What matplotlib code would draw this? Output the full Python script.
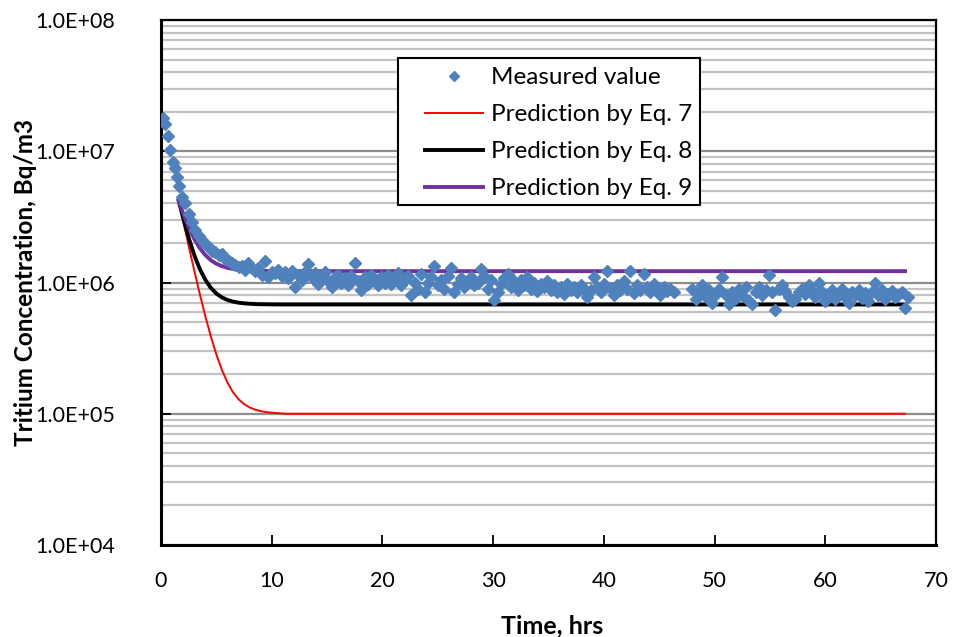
"""Tritium concentration decay: measured values vs. Eq. 7/8/9 predictions."""

import matplotlib
matplotlib.use("Agg")
import matplotlib.pyplot as plt
from matplotlib.patches import Rectangle
from matplotlib.ticker import LogLocator, FuncFormatter, NullFormatter

BLUE = "#4f81bd"
RED = "#ff0000"
PURPLE = "#7030a0"
GRID_MAJOR = "#8c8c8c"
GRID_MINOR = "#c3c3c3"

# measured values (hrs, Bq/m3 in units of 1e6)
measured_t = [
    0.15, 0.4, 0.6, 0.8, 1.05, 1.3, 1.45, 1.6, 1.9, 2.2, 2.5, 2.8, 3.1, 3.4,
    3.7, 4.0, 4.3, 4.6, 4.9, 5.2, 5.5, 5.8, 6.1, 6.4, 6.7, 7.0, 7.3, 7.6,
    7.9, 8.2, 8.5, 8.8, 9.1, 9.4, 9.7, 10.0,
    10.3, 10.6, 10.9, 11.2, 11.5, 11.8, 12.1, 12.4, 12.7, 13.0, 13.3, 13.6,
    13.9, 14.2, 14.5, 14.8, 15.1, 15.4, 15.7, 16.0, 16.3, 16.6, 16.9, 17.2,
    17.5, 17.8, 18.1, 18.4, 18.7, 19.0, 19.3, 19.6, 19.9, 20.2, 20.5, 20.8,
    21.1, 21.4, 21.7, 22.0, 22.3, 22.6, 22.9, 23.2, 23.5, 23.8, 24.1, 24.4,
    24.7, 25.0, 25.3, 25.6, 25.9, 26.2, 26.5, 26.8, 27.1, 27.4, 27.7, 28.0,
    28.3, 28.6, 28.9, 29.2, 29.5, 29.8, 30.1, 30.4, 30.7, 31.0, 31.3, 31.6,
    31.9, 32.2, 32.5, 32.8, 33.1, 33.4, 33.7, 34.0, 34.3, 34.6, 34.9, 35.2,
    35.5, 35.8, 36.1, 36.4, 36.7, 37.0, 37.3, 37.6, 37.9, 38.2, 38.5, 38.8,
    39.1, 39.4, 39.7, 40.0, 40.3, 40.6, 40.9, 41.2, 41.5, 41.8, 42.1, 42.4,
    42.7, 43.0, 43.3, 43.6, 43.9, 44.2, 44.5, 44.8, 45.1, 45.4, 45.7, 46.0,
    46.3,
    48.0, 48.3, 48.6, 48.9, 49.2, 49.5, 49.8, 50.1, 50.4, 50.7, 51.0, 51.3,
    51.6, 51.9, 52.2, 52.5, 52.8, 53.1, 53.4, 53.7, 54.0, 54.3, 54.6, 54.9,
    55.2, 55.5, 55.8, 56.1, 56.4, 56.7, 57.0, 57.3, 57.6, 57.9, 58.2, 58.5,
    58.8, 59.1, 59.4, 59.7, 60.0, 60.3, 60.6, 60.9, 61.2, 61.5, 61.8, 62.1,
    62.4, 62.7, 63.0, 63.3, 63.6, 63.9, 64.2, 64.5, 64.8, 65.1, 65.4, 65.7,
    66.0, 66.3, 66.6, 66.9, 67.2, 67.5,
]
measured_v = [
    18.0, 16.0, 13.0, 10.2, 8.3, 7.4, 6.4, 5.4, 4.5, 4.0, 3.3, 2.9, 2.5, 2.25,
    2.1, 1.95, 1.85, 1.75, 1.7, 1.62, 1.65, 1.5, 1.45, 1.4, 1.35, 1.32, 1.33, 1.25,
    1.4, 1.3, 1.22, 1.28, 1.15, 1.45, 1.1, 1.2,
    1.18, 1.25, 1.12, 1.2, 1.08, 1.22, 0.92, 1.15, 1.05, 1.2, 1.38, 1.1,
    1.18, 0.98, 1.12, 1.2, 1.02, 0.93, 1.1, 1.15, 1.0, 1.08, 0.95, 1.12,
    1.4, 1.02, 0.87, 1.1, 0.98, 1.15, 1.05, 0.95, 1.1, 1.0, 1.15, 0.97,
    1.08, 1.18, 0.95, 1.05, 1.12, 0.81, 1.0, 0.9, 1.17, 0.84, 1.0, 1.1,
    1.33, 0.95, 1.05, 0.9, 1.12, 1.3, 0.85, 0.98, 1.08, 0.92, 1.02, 1.1,
    0.95, 1.0, 1.26, 1.12, 0.9, 1.05, 0.74, 0.85, 0.98, 1.08, 1.17, 0.92,
    1.02, 0.88, 1.05, 0.95, 1.1, 0.9, 1.0, 0.86, 0.98, 0.92, 1.03, 0.88,
    0.95, 0.85, 0.92, 0.82, 0.97, 0.88, 0.93, 0.84, 0.95, 0.9, 0.78, 0.87,
    1.1, 0.93, 0.85, 0.98, 1.22, 0.9, 0.8, 0.95, 0.87, 1.02, 0.9, 1.22,
    0.83, 0.95, 0.88, 1.17, 0.92, 0.85, 0.97, 0.9, 0.8, 0.93, 0.86, 0.9,
    0.84,
    0.9, 0.75, 0.85, 0.95, 0.78, 0.88, 0.7, 0.82, 0.9, 1.1, 0.8, 0.68,
    0.85, 0.76, 0.9, 0.8, 0.93, 0.72, 0.68, 0.85, 0.92, 0.8, 0.88, 1.15,
    0.85, 0.62, 0.9, 0.95, 0.86, 0.78, 0.72, 0.75, 0.85, 0.9, 0.82, 0.95,
    0.88, 0.78, 1.0, 0.85, 0.72, 0.8, 0.88, 0.75, 0.83, 0.9, 0.78, 0.7,
    0.85, 0.8, 0.88, 0.76, 0.83, 0.72, 0.85, 1.0, 0.8, 0.88, 0.75, 0.82,
    0.86, 0.78, 0.8, 0.84, 0.64, 0.77,
]

# model curves (hrs, Bq/m3 in units of 1e6)
pred_t = [1.6, 2.0, 2.5, 3.0, 3.5, 4.0, 4.5, 5.0, 5.5, 6.0, 6.5, 7.0, 7.5,
          8.0, 8.5, 9.0, 9.5, 10.0, 11.3, 67.2]
eq7_v = [4.2, 2.94, 1.9, 1.24, 0.82, 0.556, 0.389, 0.283, 0.216, 0.173, 0.146,
         0.129, 0.1185, 0.1117, 0.1074, 0.1047, 0.103, 0.1019, 0.1, 0.1]
eq8_v = [4.2, 3.1, 2.19, 1.62, 1.27, 1.05, 0.91, 0.824, 0.77, 0.736, 0.715,
         0.702, 0.694, 0.689, 0.685, 0.683, 0.682, 0.681, 0.68, 0.68]
eq9_v = [4.2, 3.36, 2.63, 2.15, 1.83, 1.62, 1.48, 1.39, 1.333, 1.294, 1.269,
         1.252, 1.242, 1.234, 1.229, 1.226, 1.224, 1.223, 1.22, 1.22]


def sci(v, _pos):
    return f"{v:.1E}"


plt.rcParams.update({"font.family": ["Lato", "DejaVu Sans"]})

W, H = 960, 637
L, R, T, B = 161, 936, 20, 545
fig = plt.figure(figsize=(W / 100, H / 100), dpi=100)
ax = fig.add_axes([L / W, 1 - B / H, (R - L) / W, (B - T) / H])

to_abs = lambda vals: [v * 1e6 for v in vals]
ax.plot(pred_t, to_abs(eq7_v), color=RED, lw=1.4, label="Prediction by Eq. 7", zorder=3)
ax.plot(pred_t, to_abs(eq8_v), color="black", lw=2.8, label="Prediction by Eq. 8", zorder=3)
ax.plot(pred_t, to_abs(eq9_v), color=PURPLE, lw=2.8, label="Prediction by Eq. 9", zorder=3)
ax.plot(measured_t, to_abs(measured_v), ls="none", marker="D", ms=6.2, color=BLUE,
        mec=BLUE, label="Measured value", zorder=4)

ax.set_yscale("log")
ax.set_ylim(1e4, 1e8)
ax.set_xlim(0, 70)
ax.set_xticks(range(0, 71, 10))
ax.yaxis.set_major_locator(LogLocator(base=10, numticks=10))
ax.yaxis.set_minor_locator(LogLocator(base=10, subs=range(2, 10), numticks=20))
ax.yaxis.set_major_formatter(FuncFormatter(sci))
ax.yaxis.set_minor_formatter(NullFormatter())

ax.set_axisbelow(True)
ax.grid(True, which="major", axis="y", color=GRID_MAJOR, lw=1.6)
ax.grid(True, which="minor", axis="y", color=GRID_MINOR, lw=1.6)

ax.tick_params(axis="both", which="major", direction="in", length=7, width=1.3,
               labelsize=15.5)
ax.tick_params(axis="y", which="major", pad=33)
ax.tick_params(axis="x", which="major", pad=19)
ax.tick_params(axis="y", which="minor", length=0)
for side, spine in ax.spines.items():
    spine.set_color("black")
    spine.set_linewidth(2.2 if side in ("left", "bottom") else 1.6)

ax.set_xlabel("Time, hrs", fontsize=18, fontweight="bold")
ax.xaxis.set_label_coords(0.505, -0.132)
ax.set_ylabel("Tritium Concentration, Bq/m3", fontsize=17.5, fontweight="bold")
ax.yaxis.set_label_coords(-0.16, 0.5)

# legend frame drawn at the reference spot, entries placed inside it
frame_x0, frame_x1, frame_y0, frame_y1 = 398, 700, 58, 205
ax.add_patch(Rectangle(((frame_x0 - L) / (R - L), 1 - (frame_y1 - T) / (B - T)),
                       (frame_x1 - frame_x0) / (R - L), (frame_y1 - frame_y0) / (B - T),
                       transform=ax.transAxes, facecolor="white", edgecolor="black",
                       lw=1.5, zorder=5))
handles, labels = ax.get_legend_handles_labels()
order = [3, 0, 1, 2]
leg = ax.legend([handles[i] for i in order], [labels[i] for i in order],
                loc="upper left", bbox_to_anchor=((425 - L) / (R - L), 1 - (67 - T) / (B - T)),
                fontsize=17.5, frameon=False, handlelength=2.4, handletextpad=0.3,
                labelspacing=0.66, borderpad=0, numpoints=1, borderaxespad=0,
                markerscale=0.85)
leg.set_zorder(6)

fig.savefig("out.png", dpi=100)
